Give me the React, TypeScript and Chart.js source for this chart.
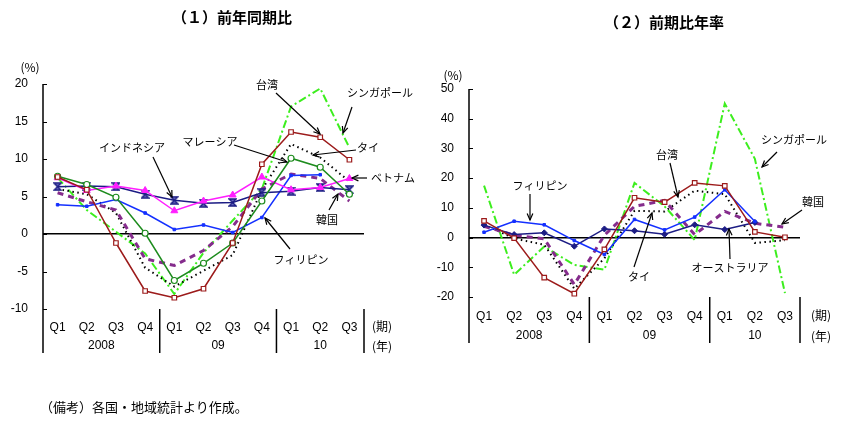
import { useEffect, useRef } from "react";
import { Chart, registerables } from "chart.js";

Chart.register(...registerables);

// Category axis: quarters grouped by year
const quarterLabels = ["Q1", "Q2", "Q3", "Q4", "Q1", "Q2", "Q3", "Q4", "Q1", "Q2", "Q3"];
const yearLabels = ["2008", "09", "10"];
const quartersPerYear = [4, 4, 3];

// (1) Year-on-year real GDP growth (%)
const yoyTaiwan = [7.6, 5.9, -1.2, -7.6, -8.5, -7.3, -1.2, 9.3, 13.6, 12.9, 9.9];
const yoyMalaysia = [7.7, 6.6, 4.9, 0.1, -6.2, -3.9, -1.2, 4.4, 10.1, 8.9, 5.3];
const yoyVietnam = [7.5, 5.8, 6.4, 5.8, 3.1, 4.4, 5.2, 7.6, 5.9, 6.2, 7.4];
const yoyIndonesia = [6.3, 6.4, 6.3, 5.3, 4.5, 4.1, 4.2, 5.5, 5.7, 6.2, 5.9];
const yoyPhilippines = [3.9, 3.7, 4.6, 2.8, 0.6, 1.2, 0.2, 2.2, 7.8, 7.9, null];
const yoyKorea = [5.5, 4.3, 3.2, -3.3, -4.2, -2.2, 1.0, 6.0, 8.0, 7.4, 4.4];
const yoyThailand = [6.0, 5.3, 2.8, -4.5, -7.0, -4.9, -2.8, 5.9, 12.0, 10.2, 7.0];
const yoySingapore = [7.5, 3.2, 0.3, -2.6, -8.0, -2.5, 1.8, 6.0, 17.0, 19.4, 11.5];

// (2) Quarter-on-quarter growth, annualised (%)
const qoqTaiwan = [5.6, -0.2, -13.5, -18.9, -4.0, 13.4, 11.9, 18.4, 17.4, 1.9, 0.1];
const qoqPhilippines = [1.8, 5.5, 4.3, -1.0, -5.7, 6.1, 2.6, 6.9, 16.1, 5.4, null];
const qoqAustralia = [4.2, 1.0, 1.6, -2.9, 2.9, 2.3, 1.1, 4.3, 2.7, 5.1, null];
const qoqKorea = [3.8, 0.8, -0.4, -15.8, 0.8, 10.5, 12.5, 1.0, 8.8, 4.8, 3.5];
const qoqThailand = [4.4, -0.3, -2.4, -17.2, -7.0, 9.0, 8.8, 15.8, 14.6, -1.8, -0.9];
const qoqSingapore = [17.5, -12.5, -3.0, -9.2, -10.8, 18.4, 10.5, -0.8, 45.1, 26.5, -18.7];

// Value-axis tick labels
const yoyTicks = [20, 15, 10, 5, 0, -5, -10];
const qoqTicks = [50, 40, 30, 20, 10, 0, -10, -20];

const W = 421;
const H = 426;
const JP = '"Noto Sans CJK JP", "Noto Sans", sans-serif';
const NUM = '"Liberation Sans", Arial, sans-serif';

const C = {
  taiwan: "#9C1B1B",
  malaysia: "#1E8C1E",
  vietnam: "#FF1EFF",
  indonesia: "#1C1C84",
  philippines: "#1430FF",
  korea: "#852C8C",
  thailand: "#000000",
  singapore: "#3DEE1E",
  australia: "#1C1C84",
};

function hourglass(color: string) {
  const s = 9;
  const c = document.createElement("canvas");
  c.width = s;
  c.height = s;
  const g = c.getContext("2d")!;
  g.beginPath();
  g.moveTo(1, 1);
  g.lineTo(s - 1, 1);
  g.lineTo(1, s - 1);
  g.lineTo(s - 1, s - 1);
  g.closePath();
  g.fillStyle = "#6a6ac0";
  g.fill();
  g.strokeStyle = color;
  g.lineWidth = 1.4;
  g.stroke();
  return c;
}

const solid = (color: string) => ({ borderColor: color, borderWidth: 1.5 });

function styleFor(key: string): any {
  switch (key) {
    case "taiwan":
      return { ...solid(C.taiwan), pointStyle: "rect", pointRadius: 3.2, pointBackgroundColor: "#fff", pointBorderColor: C.taiwan, pointBorderWidth: 1.2 };
    case "malaysia":
      return { ...solid(C.malaysia), pointStyle: "circle", pointRadius: 3, pointBackgroundColor: "#fff", pointBorderColor: C.malaysia, pointBorderWidth: 1.2 };
    case "vietnam":
      return { ...solid(C.vietnam), pointStyle: "triangle", pointRadius: 4, pointBackgroundColor: C.vietnam, pointBorderColor: C.vietnam, pointBorderWidth: 1 };
    case "indonesia":
      return { ...solid(C.indonesia), pointStyle: hourglass(C.indonesia), pointRadius: 4 };
    case "philippines":
      return { ...solid(C.philippines), pointStyle: "rect", pointRadius: 1.8, pointBackgroundColor: C.philippines, pointBorderColor: C.philippines, pointBorderWidth: 1 };
    case "australia":
      return { ...solid(C.australia), pointStyle: "rectRot", pointRadius: 3, pointBackgroundColor: C.australia, pointBorderColor: C.australia, pointBorderWidth: 1 };
    case "korea":
      return { borderColor: C.korea, borderWidth: 3, borderDash: [6, 5], pointRadius: 0 };
    case "thailand":
      return { borderColor: C.thailand, borderWidth: 2, borderDash: [1.5, 3.5], pointRadius: 0 };
    case "singapore":
      return { borderColor: C.singapore, borderWidth: 2, borderDash: [8, 3, 2, 3], pointRadius: 0 };
  }
  return {};
}

type Note = { text: string; x: number; y: number; from: [number, number]; to: [number, number] };

type Panel = {
  offsetX: number;
  title: string;
  titleX: number;
  titleY: number;
  unitX: number;
  unitY: number;
  area: { left: number; right: number; top: number; bottom: number };
  baseY: number;
  qPad: number;
  yearY: number;
  qY: number;
  sideX: number;
  ticks: number[];
  series: { key: string; name: string; data: (number | null)[] }[];
  notes: Note[];
};

function drawArrow(ctx: CanvasRenderingContext2D, from: [number, number], to: [number, number]) {
  const [x1, y1] = from;
  const [x2, y2] = to;
  ctx.beginPath();
  ctx.moveTo(x1, y1);
  ctx.lineTo(x2, y2);
  ctx.stroke();
  const a = Math.atan2(y2 - y1, x2 - x1);
  const L = 7;
  const w = 0.42;
  ctx.beginPath();
  ctx.moveTo(x2 - L * Math.cos(a - w), y2 - L * Math.sin(a - w));
  ctx.lineTo(x2, y2);
  ctx.lineTo(x2 - L * Math.cos(a + w), y2 - L * Math.sin(a + w));
  ctx.stroke();
}

// Draws the axis frame below the plot, year groups, unit labels, title and callouts
const panelDecor = {
  id: "panelDecor",
  afterDraw(chart: any, _args: any, opts: any) {
    const p: Panel = opts.panel;
    const { ctx, chartArea } = chart;
    const xs = chart.scales.x;
    const ys = chart.scales.y;
    const ox = p.offsetX;
    ctx.save();
    ctx.strokeStyle = "#000";
    ctx.fillStyle = "#000";

    // value axis line, extended down through the category band
    ctx.lineWidth = 1.5;
    ctx.beginPath();
    ctx.moveTo(chartArea.left, ys.getPixelForValue(ys.max));
    ctx.lineTo(chartArea.left, p.baseY);
    ctx.stroke();

    // inner tick marks
    ctx.lineWidth = 1;
    for (const t of p.ticks) {
      const y = Math.round(ys.getPixelForValue(t)) + 0.5;
      ctx.beginPath();
      ctx.moveTo(chartArea.left, y);
      ctx.lineTo(chartArea.left + 4, y);
      ctx.stroke();
    }

    // year separators and year labels
    ctx.lineWidth = 1.5;
    let start = 0;
    ctx.font = `12px ${NUM}`;
    ctx.textAlign = "center";
    ctx.textBaseline = "middle";
    quartersPerYear.forEach((n, i) => {
      const end = start + n - 1;
      const cx = (xs.getPixelForValue(start) + xs.getPixelForValue(end)) / 2;
      ctx.fillText(yearLabels[i], cx, p.yearY);
      const sx =
        end + 1 < quarterLabels.length
          ? (xs.getPixelForValue(end) + xs.getPixelForValue(end + 1)) / 2
          : chartArea.right;
      ctx.beginPath();
      ctx.moveTo(sx, chartArea.bottom);
      ctx.lineTo(sx, p.baseY);
      ctx.stroke();
      start += n;
    });

    // texts placed in page coordinates
    ctx.translate(-ox, 0);
    ctx.font = `12px ${JP}`;
    ctx.fillText("(期)", p.sideX, p.qY);
    ctx.fillText("(年)", p.sideX, p.yearY);
    ctx.fillText("(%)", p.unitX, p.unitY);

    ctx.font = `bold 15px ${JP}`;
    ctx.fillText(p.title, p.titleX, p.titleY);

    ctx.font = `11px ${JP}`;
    ctx.lineWidth = 1.2;
    for (const n of p.notes) {
      ctx.fillText(n.text, n.x, n.y);
      drawArrow(ctx, n.from, n.to);
    }
    ctx.restore();
  },
};

function makeConfig(p: Panel): any {
  const min = Math.min(...p.ticks);
  const max = Math.max(...p.ticks);
  const step = Math.abs(p.ticks[0] - p.ticks[1]);
  return {
    type: "line",
    data: {
      labels: quarterLabels,
      datasets: p.series.map((s) => ({
        label: s.name,
        data: s.data,
        fill: false,
        tension: 0,
        spanGaps: false,
        borderCapStyle: "butt",
        ...styleFor(s.key),
      })),
    },
    options: {
      responsive: false,
      maintainAspectRatio: false,
      animation: false,
      devicePixelRatio: 1,
      layout: { padding: { left: 0, top: p.area.top, right: W - p.area.right, bottom: 0 } },
      plugins: {
        legend: { display: false },
        tooltip: { enabled: false },
        panelDecor: { panel: p },
      },
      scales: {
        x: {
          type: "category",
          offset: true,
          grid: { display: false },
          border: { display: false },
          ticks: { color: "#000", font: { family: NUM, size: 12 }, padding: p.qPad, maxRotation: 0, autoSkip: false },
          afterFit: (s: any) => {
            s.height = H - p.area.bottom;
          },
        },
        y: {
          min,
          max,
          ticks: { stepSize: step, color: "#000", font: { family: NUM, size: 12 }, padding: 15 },
          grid: {
            drawTicks: false,
            lineWidth: 1.5,
            color: (c: any) => (c.tick && c.tick.value === 0 ? "#000" : "rgba(0,0,0,0)"),
          },
          border: { display: false },
          afterFit: (s: any) => {
            s.width = p.area.left;
          },
        },
      },
    },
    plugins: [panelDecor],
  };
}

const yoyPanel: Panel = {
  offsetX: 0,
  title: "（１）前年同期比",
  titleX: 232,
  titleY: 17,
  unitX: 30,
  unitY: 67,
  area: { left: 43, right: 364, top: 84, bottom: 309 },
  baseY: 353,
  qPad: 3,
  qY: 326,
  yearY: 346,
  sideX: 382,
  ticks: yoyTicks,
  series: [
    { key: "taiwan", name: "台湾", data: yoyTaiwan },
    { key: "malaysia", name: "マレーシア", data: yoyMalaysia },
    { key: "vietnam", name: "ベトナム", data: yoyVietnam },
    { key: "indonesia", name: "インドネシア", data: yoyIndonesia },
    { key: "philippines", name: "フィリピン", data: yoyPhilippines },
    { key: "korea", name: "韓国", data: yoyKorea },
    { key: "thailand", name: "タイ", data: yoyThailand },
    { key: "singapore", name: "シンガポール", data: yoySingapore },
  ],
  notes: [
    { text: "台湾", x: 267, y: 85, from: [276, 93], to: [320, 134] },
    { text: "シンガポール", x: 380, y: 93, from: [352, 107], to: [343, 133] },
    { text: "タイ", x: 368, y: 148, from: [356, 150], to: [313, 155] },
    { text: "マレーシア", x: 210, y: 142, from: [234, 145], to: [287, 162] },
    { text: "インドネシア", x: 132, y: 148, from: [153, 157], to: [172, 197] },
    { text: "ベトナム", x: 393, y: 178, from: [367, 178], to: [352, 178] },
    { text: "韓国", x: 327, y: 220, from: [329, 210], to: [338, 194] },
    { text: "フィリピン", x: 301, y: 260, from: [290, 249], to: [265, 218] },
  ],
};

const qoqPanel: Panel = {
  offsetX: W,
  title: "（２）前期比年率",
  titleX: 664,
  titleY: 22,
  unitX: 453,
  unitY: 75,
  area: { left: 48, right: 379, top: 89, bottom: 297 },
  baseY: 343,
  qPad: 4,
  qY: 315,
  yearY: 336,
  sideX: 821,
  ticks: qoqTicks,
  series: [
    { key: "taiwan", name: "台湾", data: qoqTaiwan },
    { key: "philippines", name: "フィリピン", data: qoqPhilippines },
    { key: "australia", name: "オーストラリア", data: qoqAustralia },
    { key: "korea", name: "韓国", data: qoqKorea },
    { key: "thailand", name: "タイ", data: qoqThailand },
    { key: "singapore", name: "シンガポール", data: qoqSingapore },
  ],
  notes: [
    { text: "フィリピン", x: 540, y: 186, from: [530, 194], to: [530, 220] },
    { text: "台湾", x: 667, y: 155, from: [670, 163], to: [678, 197] },
    { text: "タイ", x: 639, y: 277, from: [634, 267], to: [652, 213] },
    { text: "シンガポール", x: 794, y: 140, from: [777, 152], to: [762, 167] },
    { text: "韓国", x: 813, y: 202, from: [802, 210], to: [782, 224] },
    { text: "オーストラリア", x: 730, y: 268, from: [730, 259], to: [729, 229] },
  ],
};

function PanelChart({ panel }: { panel: Panel }) {
  const ref = useRef<HTMLCanvasElement>(null);
  useEffect(() => {
    const chart = new Chart(ref.current!, makeConfig(panel));
    return () => chart.destroy();
  }, [panel]);
  return (
    <canvas
      ref={ref}
      width={W}
      height={H}
      style={{ position: "absolute", left: panel.offsetX, top: 0, width: W, height: H, display: "block" }}
    />
  );
}

export default function App() {
  return (
    <div style={{ position: "absolute", left: 0, top: 0, width: 842, height: 426, background: "#fff", overflow: "hidden" }}>
      <PanelChart panel={yoyPanel} />
      <PanelChart panel={qoqPanel} />
      <div
        style={{
          position: "absolute",
          left: 40,
          top: 400,
          fontFamily: 'serif, "Noto Sans CJK JP"',
          fontSize: 13,
          lineHeight: "16px",
          color: "#000",
          whiteSpace: "nowrap",
        }}
      >
        （備考）各国・地域統計より作成。
      </div>
    </div>
  );
}
